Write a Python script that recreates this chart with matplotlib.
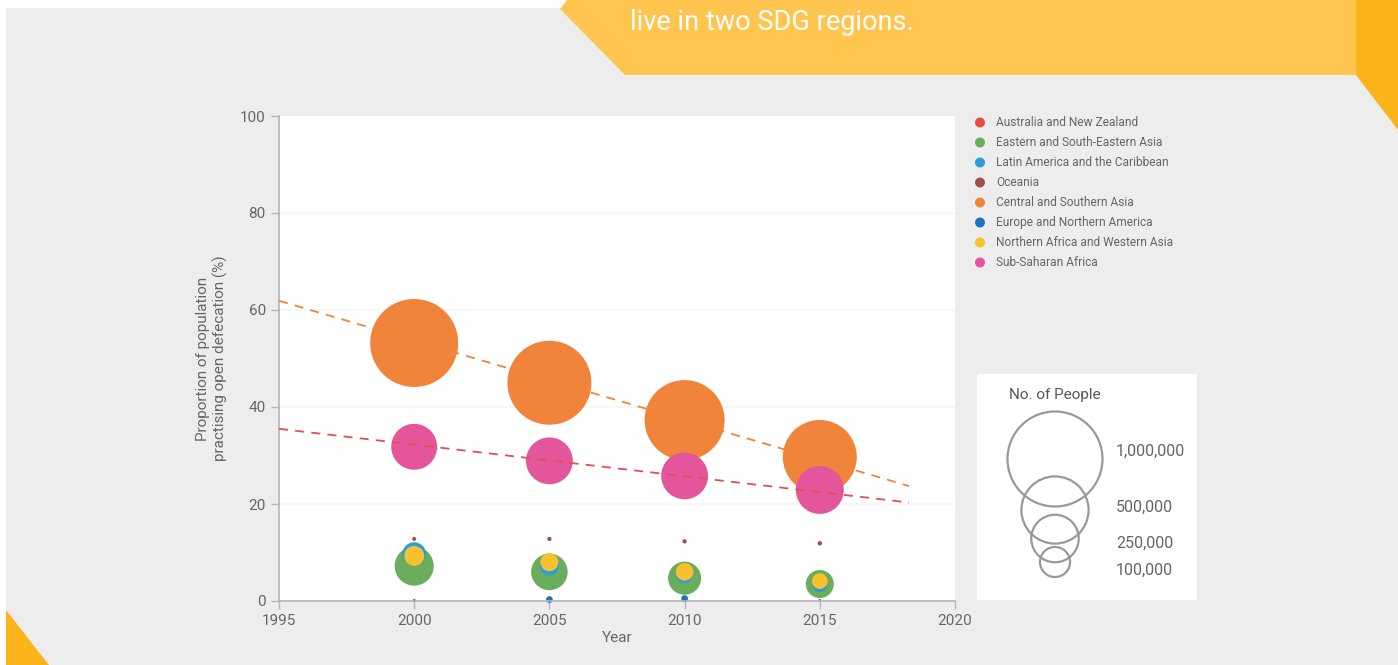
import numpy as np
import matplotlib
matplotlib.use("Agg")
import matplotlib.pyplot as plt
from matplotlib.patches import Polygon, Rectangle, Circle

plt.rcParams['font.family'] = ['Roboto', 'DejaVu Sans']

# ---------------- data ----------------
years = [2000, 2005, 2010, 2015]
regions = ["Australia and New Zealand", "Eastern and South-Eastern Asia",
           "Latin America and the Caribbean", "Oceania",
           "Central and Southern Asia", "Europe and Northern America",
           "Northern Africa and Western Asia", "Sub-Saharan Africa"]
colors = ["#E04E44", "#69AD5D", "#2B9ED8", "#A0504B",
          "#F0843A", "#1C74BB", "#F9C12E", "#E4569B"]

pct_aus = [0.0, 0.0, 0.0, 0.0]
pct_easia = [7.2, 6.0, 4.7, 3.5]
pct_latam = [9.7, 7.3, 5.4, 3.3]
pct_oceania = [12.8, 12.8, 12.3, 11.9]
pct_csasia = [53.2, 45.0, 37.3, 29.7]
pct_europe = [0.1, 0.3, 0.5, 0.2]
pct_nafrica = [9.3, 8.0, 6.0, 4.1]
pct_ssafrica = [31.8, 28.9, 25.8, 22.9]

people_aus = [0, 0, 0, 0]
people_easia = [169000, 148000, 121000, 87000]
people_latam = [61000, 42000, 32000, 22000]
people_oceania = [1800, 2000, 2100, 2200]
people_csasia = [858000, 782000, 709000, 607000]
people_europe = [1000, 5000, 5000, 600]
people_nafrica = [44000, 36000, 34000, 27000]
people_ssafrica = [234000, 243000, 243000, 255000]

trend_years = [1995, 2018.3]
trend_csasia = [61.9, 23.7]
trend_ssafrica = [35.5, 20.3]

size_legend_values = [1000000, 500000, 250000, 100000]
size_legend_labels = ["1,000,000", "500,000", "250,000", "100,000"]

x_ticks = [1995, 2000, 2005, 2010, 2015, 2020]
y_ticks = [0, 20, 40, 60, 80, 100]

pcts = [pct_aus, pct_easia, pct_latam, pct_oceania, pct_csasia,
        pct_europe, pct_nafrica, pct_ssafrica]
peoples = [people_aus, people_easia, people_latam, people_oceania,
           people_csasia, people_europe, people_nafrica, people_ssafrica]

# --------------- layout ---------------
W, H = 1398, 665
DPI = 100
fig = plt.figure(figsize=(W / DPI, H / DPI), dpi=DPI, facecolor="white")

R_MAX = 47.5  # pixel radius for 1,000,000


def r_px(v):
    return R_MAX * np.sqrt(np.asarray(v, dtype=float) / 1e6)


def s_pts(v):
    return (2 * r_px(v) * 72.0 / DPI) ** 2


# background axes in pixel coordinates
bg = fig.add_axes([0, 0, 1, 1], zorder=0)
bg.set_xlim(0, W)
bg.set_ylim(H, 0)
bg.axis("off")
bg.add_patch(Rectangle((6, 8), W - 6, H - 8, facecolor="#EDEDED", edgecolor="none"))
# banner
bg.add_patch(Polygon([(567, 0), (1356, 0), (1356, 75), (625, 75), (560, 9)],
                     closed=True, facecolor="#FFC54E", edgecolor="none"))
bg.add_patch(Polygon([(1356, 0), (W, 0), (W, 130), (1356, 75)],
                     closed=True, facecolor="#FBB51B", edgecolor="none"))
bg.add_patch(Polygon([(6, 610), (49, H), (6, H)],
                     closed=True, facecolor="#FBB51B", edgecolor="none"))
bg.text(630, 22, "live in two SDG regions.", color="white", fontsize=19.5,
        fontweight="normal", ha="left", va="center")

# colour legend
for i, (lab, col) in enumerate(zip(regions, colors)):
    y = 122.5 + 20 * i
    bg.add_patch(Circle((980, y), 5, facecolor=col, edgecolor="none"))
    bg.text(996, y, lab, fontsize=8.6, color="#666666", ha="left", va="center")

# size legend
bg.add_patch(Rectangle((977, 374), 220, 226, facecolor="white", edgecolor="none"))
bg.text(1055, 395, "No. of People", fontsize=11, color="#555555",
        ha="center", va="center")
centers_y = [459, 510, 538.5, 562]
label_y = [451, 507, 543, 570]
for v, cy, ly, lab in zip(size_legend_values, centers_y, label_y, size_legend_labels):
    bg.add_patch(Circle((1055, cy), float(r_px(v)), facecolor="none",
                        edgecolor="#999999", lw=1.6))
    bg.text(1116, ly, lab, fontsize=11.5, color="#666666", ha="left", va="center")

# main axes
x0, x1 = 279, 955
y0, y1 = 116, 601
ax = fig.add_axes([x0 / W, (H - y1) / H, (x1 - x0) / W, (y1 - y0) / H], zorder=1)
ax.set_facecolor("white")
ax.set_xlim(1995, 2020)
ax.set_ylim(0, 100)
for yv in y_ticks[1:-1]:
    ax.axhline(yv, color="#F7F7F7", lw=1.5, zorder=0)

for p, n, col in zip(pcts, peoples, colors):
    ax.scatter(years, p, s=s_pts(n), color=col, edgecolors="none",
               zorder=2, clip_on=False)

ax.plot(trend_years, trend_csasia, ls=(0, (5, 4)), color="#F0843A", lw=1.3, zorder=3)
ax.plot(trend_years, trend_ssafrica, ls=(0, (5, 4)), color="#E05050", lw=1.3, zorder=3)

for side in ["top", "right"]:
    ax.spines[side].set_visible(False)
for side in ["left", "bottom"]:
    ax.spines[side].set_color("#B5B5B5")
    ax.spines[side].set_linewidth(1.2)
ax.set_xticks(x_ticks)
ax.set_yticks(y_ticks)
ax.tick_params(colors="#B5B5B5", labelcolor="#666666", length=6, width=1,
               labelsize=11)
ax.set_xlabel("Year", fontsize=11, color="#666666", labelpad=2)
ax.set_ylabel("Proportion of population\npractising open defecation (%)",
              fontsize=11, color="#666666", linespacing=1.2)
ax.yaxis.set_label_coords((228 - x0) / (x1 - x0), 0.5)

fig.savefig("out.png", dpi=DPI, facecolor="white")
